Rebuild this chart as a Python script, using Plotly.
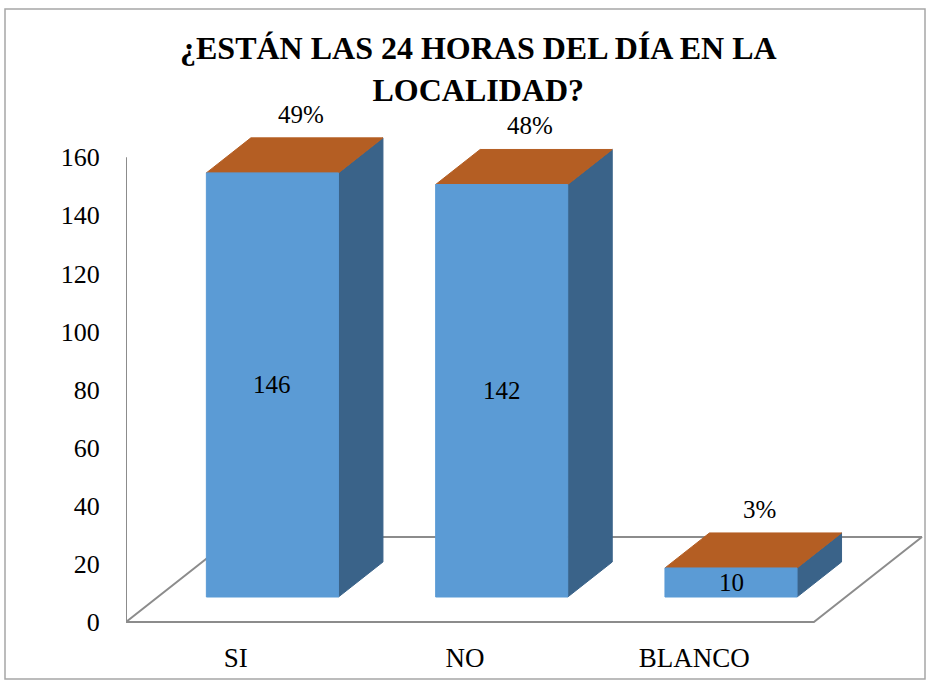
import plotly.graph_objects as go

# ---- data ----
categories = ["SI", "NO", "BLANCO"]
values = [146, 142, 10]
y_ticks = [0, 20, 40, 60, 80, 100, 120, 140, 160]
title_text = "¿ESTÁN LAS 24 HORAS DEL DÍA EN LA<br>LOCALIDAD?"

total = sum(values)
pct_labels = [f"{round(v * 100 / total)}%" for v in values]

# ---- 3D projection parameters (in axis units) ----
W = 0.576        # bar width (category units)
DX = 0.471       # x shift for full floor depth
DY = 29.26       # y shift (value units) for full floor depth
D0, D1 = 0.294, 0.706   # bar front / back depth fractions

FRONT = "#5B9BD5"
SIDE = "#3A6389"
TOP = "#B45E23"
GRID = "#8C8C8C"
FONT = "Liberation Serif"

# pixel layout of the plot area
PL, PR, PT, PB = 126, 926, 95, 632
PX_PER_CAT = 229.3
PX_PER_VAL = 2.905
ZERO_PX = 622


def P(x, v, d):
    return x + d * DX, v + d * DY


def poly(pts, color, line_color=None):
    xs = [p[0] for p in pts] + [pts[0][0]]
    ys = [p[1] for p in pts] + [pts[0][1]]
    return go.Scatter(x=xs, y=ys, mode="lines", fill="toself", fillcolor=color,
                      line=dict(color=line_color or color, width=1 if line_color is None else 2),
                      hoverinfo="skip", showlegend=False)


fig = go.Figure()

# floor
n = len(categories)
floor = [P(-0.5, 0, 0), P(n - 0.5, 0, 0), P(n - 0.5, 0, 1), P(-0.5, 0, 1)]
fig.add_trace(poly(floor, "white", GRID))

# vertical axis line
fig.add_trace(go.Scatter(x=[-0.5, -0.5], y=[0, y_ticks[-1]], mode="lines",
                         line=dict(color=GRID, width=2), hoverinfo="skip", showlegend=False))

annotations = []
for i, (c, v) in enumerate(zip(categories, values)):
    l, r = i - W / 2, i + W / 2
    front = [P(l, 0, D0), P(r, 0, D0), P(r, v, D0), P(l, v, D0)]
    side = [P(r, 0, D0), P(r, 0, D1), P(r, v, D1), P(r, v, D0)]
    top = [P(l, v, D0), P(r, v, D0), P(r, v, D1), P(l, v, D1)]
    fig.add_trace(poly(side, SIDE))
    fig.add_trace(poly(top, TOP))
    fig.add_trace(poly(front, FRONT))
    fx, fy = P(i, v / 2, D0)
    annotations.append(dict(x=fx, y=fy, text=str(v), showarrow=False,
                            font=dict(family=FONT, size=25, color="black"),
                            xanchor="center", yanchor="middle"))
    tx, ty = P(i, v, D1)
    tx -= DX * (D1 - D0) / 2
    annotations.append(dict(x=tx, y=ty, text=pct_labels[i], showarrow=False,
                            font=dict(family=FONT, size=25, color="black"),
                            xanchor="center", yanchor="bottom", xshift=6, yshift=8))

# title
pw, ph = PR - PL, PB - PT
annotations.append(dict(xref="paper", yref="paper", x=(478 - PL) / pw, y=(PB - 69) / ph,
                        text="<b>" + title_text.replace("<br>", "</b><br><b>") + "</b>",
                        showarrow=False, xanchor="center", yanchor="middle",
                        font=dict(family=FONT, size=32, color="black")))

fig.update_layout(
    width=931, height=683,
    margin=dict(l=PL, r=931 - PR, t=PT, b=683 - PB),
    paper_bgcolor="white", plot_bgcolor="white",
    showlegend=False,
    font=dict(family=FONT),
    annotations=annotations,
    xaxis=dict(range=[-0.5, -0.5 + pw / PX_PER_CAT], tickvals=list(range(n)), ticktext=categories,
               showgrid=False, zeroline=False, showline=False,
               ticks="outside", ticklen=2, tickcolor="rgba(0,0,0,0)", ticklabelshift=-5,
               tickfont=dict(family=FONT, size=27, color="black"), fixedrange=True),
    yaxis=dict(range=[(ZERO_PX - PB) / PX_PER_VAL, (ZERO_PX - PT) / PX_PER_VAL], tickvals=y_ticks,
               showgrid=False, zeroline=False, showline=False,
               ticks="outside", ticklen=20, tickcolor="rgba(0,0,0,0)",
               tickfont=dict(family=FONT, size=26, color="black"), fixedrange=True),
    shapes=[dict(type="rect", xref="paper", yref="paper",
                 x0=(5 - PL) / pw, x1=(925 - PL) / pw,
                 y0=(PB - 679) / ph, y1=(PB - 9) / ph,
                 line=dict(color="#A6A6A6", width=1.5), fillcolor="rgba(0,0,0,0)", layer="below")],
)

fig.write_html("out.html", config={"displayModeBar": False},
               post_script="document.body.style.margin='0';document.body.style.overflow='hidden';")
